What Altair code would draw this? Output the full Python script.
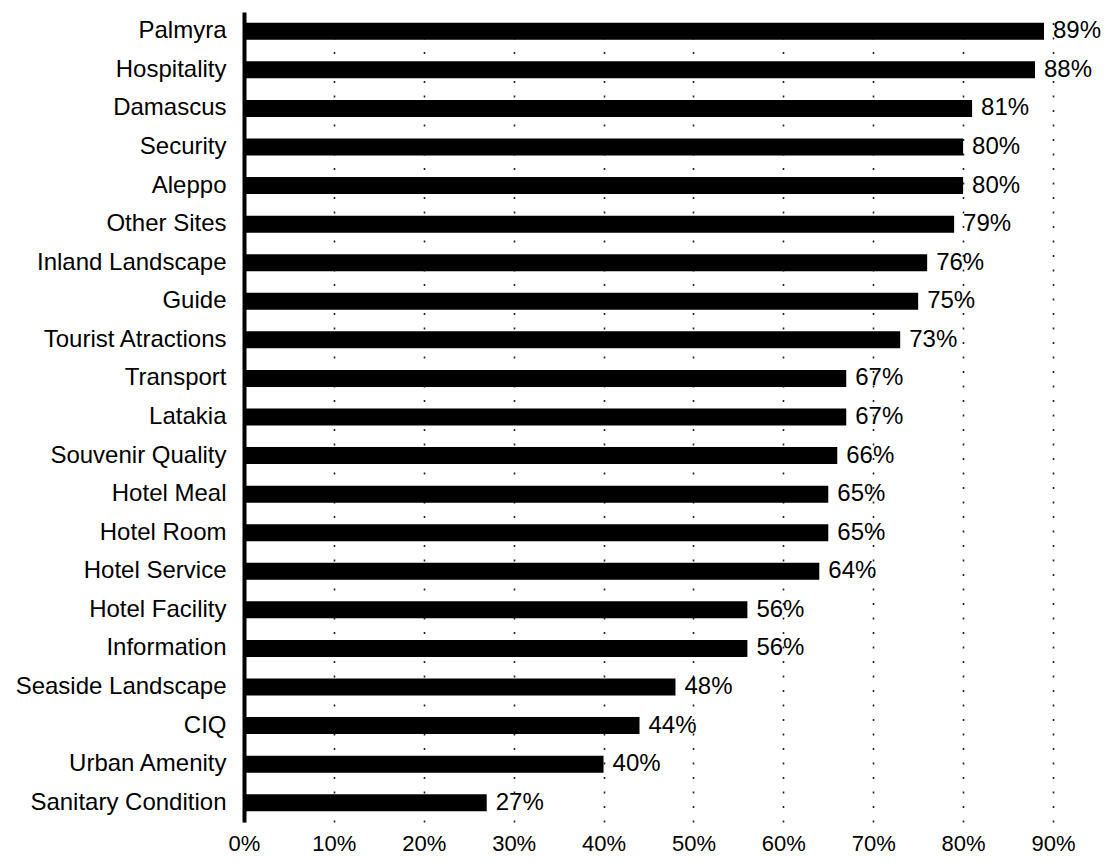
import altair as alt
import pandas as pd

categories = ["Palmyra", "Hospitality", "Damascus", "Security", "Aleppo", "Other Sites",
              "Inland Landscape", "Guide", "Tourist Atractions", "Transport", "Latakia",
              "Souvenir Quality", "Hotel Meal", "Hotel Room", "Hotel Service", "Hotel Facility",
              "Information", "Seaside Landscape", "CIQ", "Urban Amenity", "Sanitary Condition"]
values = [0.89, 0.88, 0.81, 0.80, 0.80, 0.79, 0.76, 0.75, 0.73, 0.67, 0.67,
          0.66, 0.65, 0.65, 0.64, 0.56, 0.56, 0.48, 0.44, 0.40, 0.27]
x_ticks = [0, 0.1, 0.2, 0.3, 0.4, 0.5, 0.6, 0.7, 0.8, 0.9]

df = pd.DataFrame({"category": categories, "value": values})
df["label"] = [f"{round(v * 100)}%" for v in values]

FONT = "Liberation Sans"

x = alt.X("value:Q",
          scale=alt.Scale(domain=[0, 0.9], nice=False, zero=True),
          axis=alt.Axis(values=x_ticks, format=".0%", title=None, domain=False,
                        ticks=False, labelPadding=11, labelFontSize=22, labelFont=FONT,
                        labelColor="black", grid=True, gridColor="#222222",
                        gridDash=[2, 12.5], gridWidth=1.6, labelFlush=False))
y = alt.Y("category:N", sort=categories,
          scale=alt.Scale(paddingInner=0.56, paddingOuter=0.28),
          axis=alt.Axis(title=None, ticks=False, labelPadding=18, labelFontSize=24,
                        labelFont=FONT, labelColor="black", domainColor="black",
                        domainWidth=4, grid=False, labelLimit=400))

bars = alt.Chart(df).mark_bar(color="black").encode(x=x, y=y)
text = alt.Chart(df).mark_text(align="left", baseline="middle", dx=9, fontSize=24,
                               font=FONT, color="black").encode(
    x=alt.X("value:Q"), y=alt.Y("category:N", sort=categories), text="label:N")

chart = alt.layer(bars, text).properties(
    width=809, height=810,
    autosize=alt.AutoSizeParams(type="none"),
    padding={"left": 236, "top": 4, "right": 50, "bottom": 33},
).configure_view(stroke=None)

chart.save("out.html", embed_options={"renderer": "svg", "actions": False})
